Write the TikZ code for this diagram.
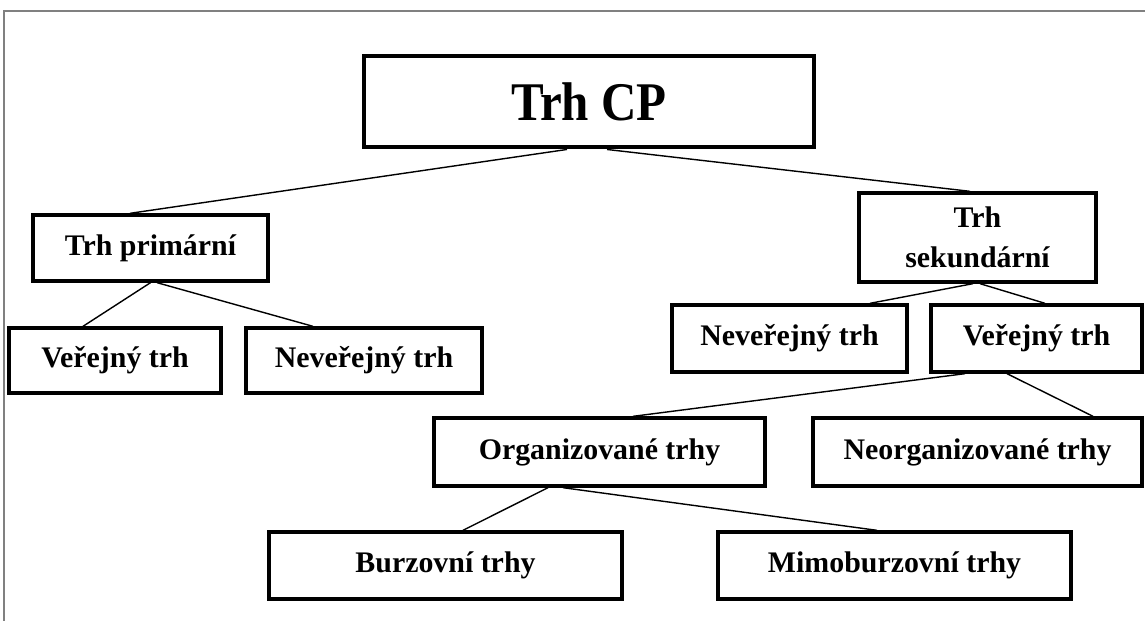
\documentclass[tikz,border=0pt]{standalone}
\usepackage{fontspec}
\setmainfont{Liberation Serif}
\newfontfamily\cpfont[FakeStretch=0.9]{Liberation Serif}
\usepackage{tikz}
\usetikzlibrary{positioning}
\tikzset{
    mynode/.style = {rectangle, draw=black, line width=1.9pt, align=center, fill=white, inner sep=2pt, font=\fontsize{17}{23}\selectfont\bfseries, text=black},
    mynodet/.style = {mynode, line width=2.8pt, font=\cpfont\fontsize{31}{33}\selectfont\bfseries},
    edgen/.style = {-, line width=0.8pt, black},
    framen/.style = {-, line width=1.2pt, gray}
}

\begin{document}
\begin{tikzpicture}
\useasboundingbox (0,0) rectangle (22.9,-12.42);
\draw[framen] (0.08,-12.42) -- (0.08,-0.22) -- (22.9,-0.22);

\node[mynodet, minimum width=9.0cm, minimum height=1.82cm] at (11.78, -2.03) (cp) {Trh CP};
\node[mynode, minimum width=4.7cm, minimum height=1.32cm] at ( 3.01, -4.96) (prim) {Trh primární};
\node[mynode, minimum width=4.24cm, minimum height=1.3cm] at ( 2.30, -7.21) (pverej) {Veřejný trh};
\node[mynode, minimum width=4.72cm, minimum height=1.3cm] at ( 7.28, -7.21) (pnever) {Neveřejný trh};
\node[mynode, minimum width=4.74cm, minimum height=1.78cm] at (19.55, -4.75) (sek) {Trh\\sekundární};
\node[mynode, minimum width=4.7cm, minimum height=1.34cm] at (15.79, -6.77) (snever) {Neveřejný trh};
\node[mynode, minimum width=4.22cm, minimum height=1.34cm] at (20.73, -6.77) (sverej) {Veřejný trh};
\node[mynode, minimum width=6.62cm, minimum height=1.36cm] at (11.99, -9.04) (org) {Organizované trhy};
\node[mynode, minimum width=6.58cm, minimum height=1.36cm] at (19.55, -9.04) (neorg) {Neorganizované trhy};
\node[mynode, minimum width=7.06cm, minimum height=1.34cm] at ( 8.91,-11.31) (burz) {Burzovní trhy};
\node[mynode, minimum width=7.06cm, minimum height=1.34cm] at (17.89,-11.31) (mimo) {Mimoburzovní trhy};

\draw[edgen] ([xshift=-0.44cm]cp.south) -- ([xshift=-0.41cm]prim.north);
\draw[edgen] ([xshift=0.36cm]cp.south) -- ([xshift=-0.15cm]sek.north);
\draw[edgen] (prim.south) -- ([xshift=-0.64cm]pverej.north);
\draw[edgen] ([xshift=0.13cm]prim.south) -- ([xshift=-1.02cm]pnever.north);
\draw[edgen] ([xshift=-0.09cm]sek.south) -- ([xshift=1.61cm]snever.north);
\draw[edgen] ([xshift=0.05cm]sek.south) -- ([xshift=0.17cm]sverej.north);
\draw[edgen] ([xshift=-1.43cm]sverej.south) -- ([xshift=0.67cm]org.north);
\draw[edgen] ([xshift=-0.59cm]sverej.south) -- ([xshift=2.31cm]neorg.north);
\draw[edgen] ([xshift=-1.03cm]org.south) -- ([xshift=0.35cm]burz.north);
\draw[edgen] ([xshift=-0.73cm]org.south) -- ([xshift=-0.35cm]mimo.north);

\end{tikzpicture}
\end{document}
